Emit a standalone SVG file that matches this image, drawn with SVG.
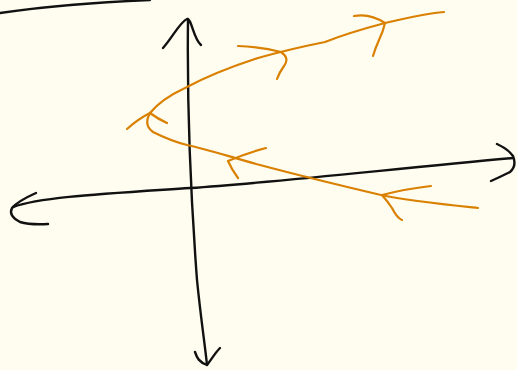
<svg xmlns="http://www.w3.org/2000/svg" width="517" height="370" viewBox="0 0 517 370">
<style>
.ax{fill:none;stroke:#111;stroke-width:2.4;stroke-linecap:round;stroke-linejoin:round}
.cv{fill:none;stroke:#d98000;stroke-width:2.2;stroke-linecap:round;stroke-linejoin:round}
</style>
<rect width="517" height="370" fill="#fffdf0"/>
<g id="top-line"><path class="ax" d="M0,13 Q60,4 150,0"/></g>
<g id="connectors">
<g id="y-axis">
<path class="ax" d="M188,19 C187,100 191,200 197,280 C201,320 205,345 207,365"/>
<path class="ax" d="M163,48 C172,38 180,22 187,19 C192,19 193,38 201,45"/>
<path class="ax" d="M195,352 C197,358 199,362 207,365 C211,360 215,353 220,348"/>
</g>
<g id="x-axis">
<path class="ax" d="M13,207 C40,197 100,194 190,188 S400,168 513,158"/>
<path class="ax" d="M36,193 Q18,201 12,208 Q8,216 20,222 Q30,225 48,224"/>
<path class="ax" d="M497,144 Q508,149 513,156 Q517,166 510,172 Q500,177 491,181"/>
</g>
<g id="curve">
<path class="cv" d="M444,12 C420,14 400,20 385,23 C370,27 345,34 325,42 C305,46 290,49 258,58 C230,67 200,80 185,88 C170,95 158,103 150,113 C146,120 146,127 153,132 C165,138 175,142 187,145 C210,150 230,157 260,165 C290,173 330,183 381,195 C410,201 440,204 478,208"/>
<path class="cv" d="M127,129 Q138,119 150,113"/>
<path class="cv" d="M150,113 Q158,119 167,123"/>
<path class="cv" d="M238,46 Q262,47 281,52 Q290,58 284,66 Q279,73 277,79"/>
<path class="cv" d="M354,16 Q370,13 385,23 Q383,32 379,40 Q375,49 373,56"/>
<path class="cv" d="M266,148 Q247,153 228,161 Q232,170 238,178"/>
<path class="cv" d="M431,186 Q405,189 382,195 Q388,202 392,208 Q397,218 402,220"/>
</g>
</g>
</svg>
